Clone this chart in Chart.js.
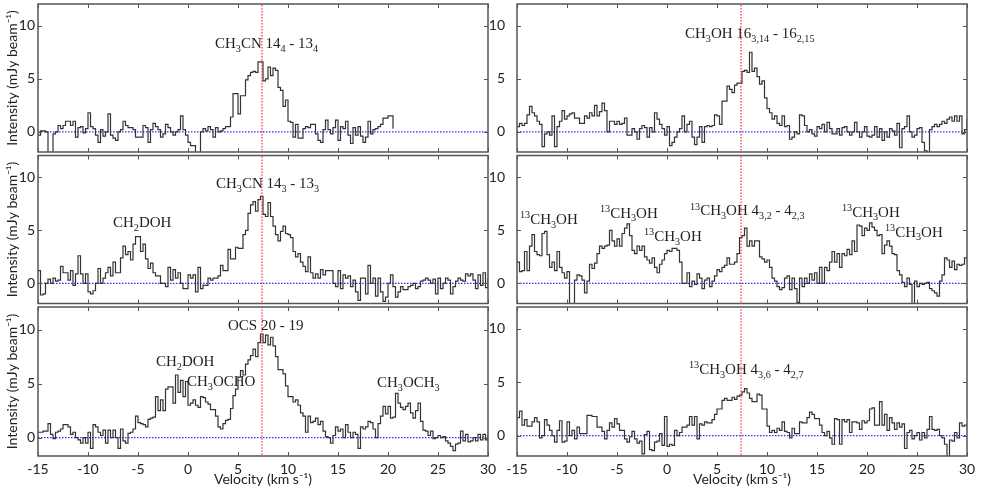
<!DOCTYPE html>
<html lang="en">
<head>
<meta charset="utf-8">
<title>Line spectra</title>
<script src="https://cdn.jsdelivr.net/npm/chart.js@4.4.1/dist/chart.umd.min.js"></script>
<style>
  body { margin: 0; background: #fff; }
  #wrap { position: relative; width: 981px; height: 492px; overflow: hidden; background: #fff; }
  #wrap canvas { position: absolute; }
</style>
</head>
<body>
<div id="wrap">
  <canvas id="c1"></canvas><canvas id="c2"></canvas><canvas id="c3"></canvas>
  <canvas id="c4"></canvas><canvas id="c5"></canvas><canvas id="c6"></canvas>
</div>
<script>
// channel grid (km/s) and reference lines
const V_START = -15;
const V_STEP = 0.25;
const V_SYS = 7.4;
const X_TICKS = [-15, -10, -5, 0, 5, 10, 15, 20, 25, 30];
const Y_TICKS = [0, 5, 10];

// intensities (mJy/beam), one value per channel
const ch3cn_144 = [
  -0.3, 0.1, 0.1, 0.0, -2.0, -2.0, -0.2, 0.0, 0.6, 0.3,
  0.6, 1.0, 1.0, 0.6, 1.0, -0.5, 0.4, 0.5, -0.1, 0.3,
  1.8, 0.5, 0.3, -0.3, -1.0, 0.2, -0.4, 0.0, 1.7, -0.3,
  -0.6, -0.8, 0.0, 0.2, 1.0, 0.6, 0.4, 0.4, 0.2, -0.5,
  -0.5, -0.5, 0.6, 0.4, -1.0, 0.2, 0.8, 0.5, 0.2, -0.5,
  -0.2, 0.7, 0.4, 0.0, -0.3, 0.0, 0.2, 1.5, 0.2, -0.3,
  -1.0, -1.3, -1.3, -2.0, -2.0, 0.0, 0.3, 0.1, 0.5, 0.2,
  -0.5, 0.4, 0.0, 0.1, 0.3, 0.5, 0.5, 1.4, 3.6, 3.6,
  1.7, 3.4, 3.4, 4.9, 5.3, 5.6, 5.7, 5.6, 6.6, 6.6,
  4.8, 5.0, 6.1, 5.3, 6.0, 5.8, 4.2, 3.9, 2.4, 3.0,
  1.0, 0.9, -0.5, 0.7, -0.6, -0.6, 0.3, 0.5, 0.4, 0.7,
  0.7, -0.2, -0.8, -1.0, 0.2, 1.1, 0.2, -0.2, 0.4, 1.1,
  -0.8, 0.5, 0.3, 1.0, -0.3, -1.1, 0.4, -0.3, 0.5, -0.4,
  -1.0, -0.5, 1.0, -0.2, 0.2, 0.3, 0.5, 0.7, 1.3, 1.3,
  1.5, 1.5, 0.3
];

const ch3cn_143 = [
  1.2, -1.1, -1.0, 0.0, 0.4, 0.0, 0.5, 0.2, 0.3, 1.6,
  1.0, 1.0, 0.3, 1.2, -0.2, 0.9, 2.6, 0.9, 0.0, 0.9,
  -0.8, -1.0, -0.7, 0.0, 1.4, 0.0, 0.5, 1.0, 1.5, 0.7,
  2.0, 1.0, 1.0, 2.4, 3.5, 2.7, 3.0, 2.2, 3.7, 4.4,
  4.4, 3.0, 3.7, 2.3, 1.4, 1.9, 1.0, 0.7, 0.7, 0.0,
  0.0, -0.3, 1.5, 0.3, 1.3, 0.5, 1.0, 0.0, -0.5, -0.5,
  0.8, 0.5, 0.8, -0.8, 1.5, -0.5, -0.2, -0.2, 0.5, 0.3,
  0.5, 0.5, 0.7, 1.7, 1.2, 1.2, 3.2, 2.3, 2.3, 3.4,
  3.3, 3.3, 4.6, 5.0, 6.6, 7.4, 7.7, 6.8, 7.9, 8.2,
  6.5, 6.3, 7.6, 6.3, 5.4, 4.6, 4.0, 4.9, 5.4, 4.7,
  4.6, 4.3, 3.0, 2.5, 2.8, 2.0, 1.6, 1.1, 2.5, 1.0,
  0.5, 0.9, 0.5, 1.3, 0.8, 1.2, 1.2, 1.2, 0.0, -0.3,
  1.2, -0.5, 0.8, 0.5, 0.7, -0.3, 0.3, -0.8, -1.6, 0.5,
  0.5, -1.0, 1.7, 0.0, 0.5, -1.2, 0.5, -0.8, -1.7, -1.3,
  0.0, 0.8, -0.3, -1.3, -0.8, -0.3, -0.6, -0.6, -0.3, -0.2,
  0.0, -0.5, -0.3, 0.2, 0.3, 0.5, 0.3, 0.0, 0.4, -1.0,
  0.5, -0.5, 0.0, 0.5, 0.3, -1.0, -0.3, 0.2, 0.5, 0.3,
  0.2, 0.9, 0.7, 0.9, 0.3, -0.5, 0.8, -0.2, 1.0, -0.4,
  0.5
];

const ocs_2019 = [
  0.5, 0.5, 0.6, 0.6, 1.3, 0.3, -0.1, 0.5, 0.6, 0.8,
  1.2, 1.2, 1.0, 0.3, 0.5, 0.0, -0.2, -0.5, 0.0, -0.5,
  0.5, -1.0, 1.2, 1.0, 0.5, 0.2, 0.7, -0.5, 0.7, 0.0,
  0.7, 0.0, -1.0, 0.8, -0.3, -0.5, 0.4, 0.5, 0.8, 2.0,
  1.4, 1.3, 1.2, 1.0, 1.7, 1.8, 1.9, 3.8, 2.5, 3.5,
  2.5, 4.5, 4.7, 4.7, 3.2, 5.8, 4.2, 5.3, 3.8, 5.2,
  3.0, 3.2, 3.5, 3.0, 2.8, 3.8, 3.7, 3.3, 3.1, 2.6,
  2.6, 2.0, 1.0, 0.8, 1.3, 1.6, 1.7, 2.7, 3.9, 4.5,
  5.6, 6.2, 5.8, 6.8, 7.2, 7.6, 8.2, 7.5, 8.8, 9.6,
  8.8, 9.5, 8.6, 9.3, 8.5, 7.5, 6.3, 6.3, 5.9, 4.8,
  3.8, 3.8, 3.3, 3.5, 3.0, 2.3, 2.0, 0.5, 2.0, 1.4,
  1.5, 1.8, 1.2, 1.5, 0.6, 0.1, 0.0, -0.5, 0.2, 1.0,
  0.6, 0.8, 0.0, 1.2, 0.5, 0.0, 0.5, 0.3, -1.0, 1.0,
  0.8, 1.0, 1.5, 1.4, 0.8, 0.0, 1.3, 2.0, 2.9, 2.2,
  2.9, 1.8, 1.9, 4.1, 3.2, 2.8, 2.6, 2.9, 3.2, 2.3,
  1.8, 2.5, 3.2, 1.5, 0.7, 0.6, 0.2, 0.6, -0.1, 0.0,
  0.2, 0.0, 0.1, -0.3, -0.5, -0.8, -1.2, -0.6, -0.5, 0.6,
  -0.3, 0.3, -0.4, -0.3, 0.0, -0.3, 0.3, -0.2, 0.3, -0.2,
  0.3
];

const ch3oh_16 = [
  0.5, 0.8, 0.6, 0.8, 1.6, 2.4, 1.8, 1.5, 1.0, 0.7,
  -1.4, -0.2, 0.0, -0.3, 1.5, -1.4, 0.5, 1.0, 2.0, 1.2,
  1.5, 1.7, 1.8, 1.3, 1.3, 0.8, 0.8, 1.5, 1.3, 1.8,
  1.5, 2.5, 1.5, 1.9, 2.7, 2.0, 0.0, 1.0, 1.0, 0.7,
  1.0, 0.7, 0.8, 1.3, -0.3, -0.3, 0.3, 0.0, -0.7, 0.3,
  0.6, 0.4, -0.5, 0.4, 0.0, 1.8, 1.2, 0.7, 0.3, -0.3,
  0.5, -1.3, -1.0, -0.5, 0.0, 0.3, 1.5, 0.0, 0.7, 1.0,
  -0.5, -1.2, -0.5, 0.5, -1.0, 0.5, 0.6, 0.5, 0.6, 1.6,
  1.5, 0.7, 2.9, 2.9, 4.3, 4.0, 3.7, 4.4, 4.6, 4.6,
  5.7, 5.8, 5.6, 7.5, 5.7, 6.0, 5.2, 4.5, 4.8, 3.2,
  2.2, 1.8, 1.2, 1.5, 0.8, 0.6, 1.5, 0.5, 0.6, -0.7,
  -0.5, 0.0, -0.2, 1.6, 1.5, 0.6, 0.0, 0.2, -0.2, -0.4,
  0.5, 0.3, 0.7, 0.0, 0.9, 0.3, -0.2, -0.2, 0.3, -0.3,
  0.4, 0.5, 0.0, -0.3, 0.0, 0.9, 0.0, -0.5, 0.0, 0.5,
  -0.4, -0.5, -0.3, 0.5, -0.5, 0.3, -0.8, 0.0, -0.5, 0.3,
  0.1, -0.3, 0.8, -1.5, 0.3, 0.5, 1.5, 0.0, -0.5, -0.3,
  0.3, 0.4, -1.0, -1.8, -2.0, 0.2, 0.5, 0.7, 0.5, 0.7,
  1.0, 0.8, 1.2, 1.4, 1.0, 1.5, 1.0, 1.5, -0.2, 0.2,
  1.2
];

const c13h3oh_432 = [
  2.0, 1.1, 1.2, 3.0, 1.2, 3.5, 4.6, 3.0, 2.7, 2.6,
  4.7, 4.9, 2.7, 1.5, 2.0, 1.2, 3.0, 1.5, 1.0, 0.5,
  1.1, -2.0, -2.0, 0.3, 0.8, 0.7, 0.3, -0.9, 0.2, 1.8,
  1.4, 1.9, 2.8, 3.5, 3.3, 3.5, 3.6, 5.0, 4.0, 3.5,
  4.2, 3.5, 4.7, 5.2, 5.6, 4.5, 3.1, 2.8, 3.5, 3.1,
  3.5, 2.5, 2.2, 1.9, 2.4, 1.5, 1.0, 1.8, 2.2, 2.8,
  3.1, 3.0, 3.3, 3.3, 3.1, 2.0, 0.0, 0.0, 1.0, -0.3,
  0.2, -0.1, 0.9, 0.5, -0.5, 0.3, 0.5, -0.3, 0.2, 0.7,
  1.3, 1.1, 1.5, 1.7, 2.4, 1.8, 1.8, 2.0, 2.8, 4.3,
  4.5, 5.2, 3.5, 4.0, 3.5, 4.0, 4.0, 2.5, 2.3, 2.0,
  2.2, 1.5, 0.5, 0.2, -0.3, -0.6, -0.4, 0.5, 0.7, -0.6,
  0.5, -0.5, -1.8, 0.5, -0.3, 0.5, 0.0, 0.9, 0.3, 1.0,
  0.0, 1.5, 0.0, 1.5, 1.2, 2.0, 3.0, 2.0, 2.8, 1.5,
  2.8, 2.6, 3.2, 2.7, 4.0, 3.0, 5.5, 5.4, 4.5, 5.2,
  5.0, 5.7, 5.3, 5.0, 4.5, 4.6, 2.8, 3.6, 4.0, 3.5,
  2.8, 2.7, 1.2, 0.8, 0.1, -0.3, 0.5, -0.1, -2.0, 0.2,
  -0.3, 0.0, -0.1, 0.0, 0.1, -0.5, -0.7, -0.9, -1.2, 0.2,
  0.8, 2.4, 2.2, 1.5, 2.1, 1.3, 1.8, 1.7, 1.8, 2.4,
  2.4
];

const c13h3oh_436 = [
  1.7, 2.3, 1.0, 1.5, 0.9, 0.9, 1.3, 1.7, 1.3, -0.2,
  0.0, 1.5, 1.0, 0.5, 0.0, -0.6, 0.5, 1.4, -0.6, -0.5,
  1.3, 0.0, 0.5, -0.3, 0.8, 0.2, 0.2, 0.2, 1.9, 1.9,
  1.8, 1.8, 0.8, 0.8, 0.4, -0.3, 0.5, 1.2, 0.8, 1.6,
  1.1, 0.5, 0.5, -0.3, -0.6, -0.1, 0.4, -0.3, -0.7, -0.5,
  -1.7, 0.1, 0.4, -1.3, -1.4, -0.6, -0.5, 0.2, -0.9, 1.8,
  -1.0, -0.8, -0.9, 0.5, 0.0, 0.3, 0.8, 0.8, 1.0, 1.8,
  1.0, 1.8, -0.3, 1.1, 1.0, 1.3, 1.2, 1.2, 1.5, 2.0,
  2.5, 2.5, 3.3, 3.5, 3.3, 3.3, 3.6, 3.4, 3.7, 3.8,
  4.1, 4.4, 4.0, 3.5, 3.2, 3.2, 3.9, 3.8, 2.5, 2.5,
  0.9, 0.3, 0.5, 0.3, 0.7, 0.5, 1.3, 0.4, 0.3, -0.2,
  0.7, 0.2, 0.2, 1.3, 1.2, 1.2, 1.7, 2.2, 2.0, 1.6,
  1.6, 1.0, 0.3, 0.0, 0.4, -0.2, -0.8, 1.6, 1.5, -0.8,
  1.5, 1.3, 1.5, 0.3, 1.3, 1.3, 1.2, 0.6, 1.4, 1.2,
  1.4, 2.5, 2.6, 1.0, 1.0, 3.2, 1.0, 2.0, 0.5, 1.7,
  1.2, 0.6, 1.2, 0.8, 1.1, -1.2, 0.3, 0.5, -0.3, 0.0,
  0.3, -0.4, 0.3, -0.2, 0.6, 1.8, 0.6, 0.5, 0.6, 0.0,
  -0.2, -0.8, -2.0, -0.4, -0.5, 0.3, -0.2, 1.2, 0.9, 1.0,
  1.0
];

// line labels, anchored in data units (velocity, intensity) at text baseline
const labels1 = [{ text: 'CH_{3}CN 14_{4} - 13_{4}', v: 2.7, i: 7.9 }];
const labels2 = [
  { text: 'CH_{2}DOH', v: -7.5, i: 5.3 },
  { text: 'CH_{3}CN 14_{3} - 13_{3}', v: 2.8, i: 9.0 }
];
const labels3 = [
  { text: 'OCS 20 - 19', v: 4.0, i: 10.0 },
  { text: 'CH_{2}DOH', v: -3.2, i: 6.6 },
  { text: 'CH_{3}OCHO', v: -0.1, i: 4.8 },
  { text: 'CH_{3}OCH_{3}', v: 18.9, i: 4.7 }
];
const labels4 = [{ text: 'CH_{3}OH 16_{3,14} - 16_{2,15}', v: 1.8, i: 8.8 }];
const labels5 = [
  { text: '^{13}CH_{3}OH', v: -14.7, i: 5.6 },
  { text: '^{13}CH_{3}OH', v: -6.7, i: 6.2 },
  { text: '^{13}CH_{3}OH', v: -2.3, i: 4.0 },
  { text: '^{13}CH_{3}OH 4_{3,2} - 4_{2,3}', v: 2.3, i: 6.4 },
  { text: '^{13}CH_{3}OH', v: 17.5, i: 6.3 },
  { text: '^{13}CH_{3}OH', v: 21.8, i: 4.4 }
];
const labels6 = [{ text: '^{13}CH_{3}OH 4_{3,6} - 4_{2,7}', v: 2.2, i: 5.8 }];

// layout
const COLS = {
  left:  { x: 0,   w: 500, axisW: 38, padR: 12, tickPad: 3,  title: true },
  right: { x: 483, w: 498, axisW: 34, padR: 14, tickPad: 12, title: false }
};
const ROWS = [
  { y: 0,   h: 156, padT: 4,   axisH: 4,   xLabels: false },
  { y: 154, h: 156, padT: 1.5, axisH: 6.5, xLabels: false },
  { y: 304, h: 188, padT: 3,   axisH: 36,  xLabels: true }
];

const SANS = 'Lato, "Open Sans", sans-serif';
const SERIF = '"Liberation Serif", "DejaVu Serif", serif';

function drawRich(ctx, str, x, y, size) {
  const parts = str.split(/(_\{[^}]*\}|\^\{[^}]*\})/).filter(s => s);
  let cx = x;
  parts.forEach(p => {
    let text = p, fs = size, dy = 0;
    if (p.startsWith('_{')) { text = p.slice(2, -1); fs = size * 0.68; dy = size * 0.25; }
    else if (p.startsWith('^{')) { text = p.slice(2, -1); fs = size * 0.68; dy = -size * 0.38; }
    ctx.font = fs + 'px ' + SERIF;
    ctx.fillText(text, cx, y + dy);
    cx += ctx.measureText(text).width;
  });
}

function labelPlugin(list) {
  return {
    id: 'lineLabels',
    afterDatasetsDraw(chart) {
      const { ctx, scales: { x, y } } = chart;
      ctx.save();
      ctx.fillStyle = '#222';
      ctx.textAlign = 'left';
      ctx.textBaseline = 'alphabetic';
      list.forEach(l => drawRich(ctx, l.text, x.getPixelForValue(l.v), y.getPixelForValue(l.i), 15));
      ctx.restore();
    }
  };
}

// box with inward ticks on all four sides
const framePlugin = {
  id: 'frame',
  afterDraw(chart) {
    const { ctx, chartArea: a, scales: { x, y } } = chart;
    ctx.save();
    ctx.strokeStyle = '#555';
    ctx.lineWidth = 1;
    ctx.beginPath();
    X_TICKS.forEach(v => {
      const px = Math.round(x.getPixelForValue(v)) + 0.5;
      ctx.moveTo(px, a.bottom); ctx.lineTo(px, a.bottom - 4);
      ctx.moveTo(px, a.top); ctx.lineTo(px, a.top + 4);
    });
    Y_TICKS.forEach(v => {
      const py = Math.round(y.getPixelForValue(v)) + 0.5;
      ctx.moveTo(a.left, py); ctx.lineTo(a.left + 4, py);
      ctx.moveTo(a.right, py); ctx.lineTo(a.right - 4, py);
    });
    ctx.stroke();
    ctx.lineWidth = 1.5;
    ctx.strokeRect(a.left, a.top, a.right - a.left, a.bottom - a.top);
    ctx.restore();
  }
};

function makePanel(id, col, row, spec, yMin, yMax, labels) {
  const cv = document.getElementById(id);
  cv.width = col.w; cv.height = row.h;
  cv.style.left = col.x + 'px'; cv.style.top = row.y + 'px';

  const points = spec.map((val, k) => ({ x: V_START + k * V_STEP, y: val }));

  return new Chart(cv.getContext('2d'), {
    type: 'line',
    data: {
      datasets: [
        {   // systemic velocity
          data: [{ x: V_SYS, y: yMin - 1 }, { x: V_SYS, y: yMax + 1 }],
          borderColor: '#ff2a2a', borderWidth: 1.2, borderDash: [1.5, 1.5],
          pointRadius: 0
        },
        {
          data: points,
          borderColor: '#333', borderWidth: 1.2,
          stepped: true, pointRadius: 0, tension: 0
        },
        {   // zero level
          data: [{ x: X_TICKS[0], y: 0 }, { x: X_TICKS[X_TICKS.length - 1], y: 0 }],
          borderColor: '#1f2fff', borderWidth: 1.2, borderDash: [1.5, 1.5],
          pointRadius: 0
        }
      ]
    },
    options: {
      responsive: false,
      animation: false,
      devicePixelRatio: 1,
      layout: { padding: { top: row.padT, right: col.padR, left: 0, bottom: 0 } },
      plugins: { legend: { display: false }, tooltip: { enabled: false } },
      scales: {
        x: {
          type: 'linear', min: -15, max: 30,
          afterBuildTicks: s => { s.ticks = X_TICKS.map(v => ({ value: v })); },
          afterFit: s => { s.height = row.axisH; s.paddingLeft = 0; s.paddingRight = 0; },
          grid: { display: false, drawTicks: false },
          border: { display: false },
          ticks: { display: row.xLabels, padding: 5, color: '#222', font: { family: SANS, size: 14 }, maxRotation: 0 },
          title: { display: row.xLabels, text: 'Velocity (km s⁻¹)', color: '#222', font: { family: SANS, size: 14 }, padding: { top: 0, bottom: 4 } }
        },
        y: {
          type: 'linear', min: yMin, max: yMax,
          afterBuildTicks: s => { s.ticks = Y_TICKS.map(v => ({ value: v })); },
          afterFit: s => { s.width = col.axisW; s.paddingTop = 0; s.paddingBottom = 0; },
          grid: { display: false, drawTicks: false },
          border: { display: false },
          ticks: { padding: col.tickPad, color: '#222', font: { family: SANS, size: 14 } },
          title: { display: col.title, text: 'Intensity (mJy beam⁻¹)', color: '#222', font: { family: SANS, size: 14 }, padding: { top: 4, bottom: 0 } }
        }
      }
    },
    plugins: [labelPlugin(labels), framePlugin]
  });
}

makePanel('c1', COLS.left,  ROWS[0], ch3cn_144,   -1.9, 12.05, labels1);
makePanel('c2', COLS.left,  ROWS[1], ch3cn_143,   -1.9, 12.05, labels2);
makePanel('c3', COLS.left,  ROWS[2], ocs_2019,    -1.7, 12.1,  labels3);
makePanel('c4', COLS.right, ROWS[0], ch3oh_16,    -1.9, 12.05, labels4);
makePanel('c5', COLS.right, ROWS[1], c13h3oh_432, -1.9, 12.05, labels5);
makePanel('c6', COLS.right, ROWS[2], c13h3oh_436, -1.9, 12.05, labels6);
</script>
</body>
</html>
